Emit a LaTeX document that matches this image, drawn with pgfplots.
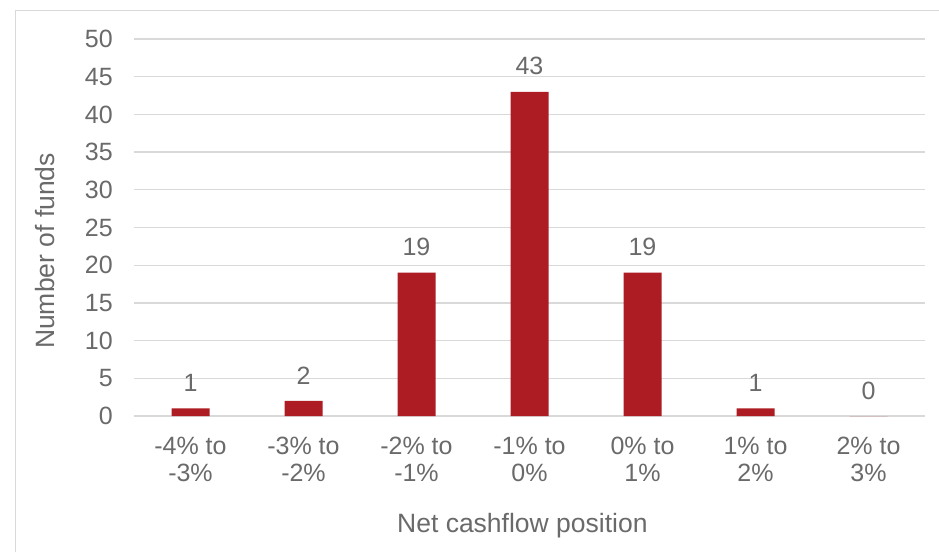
\documentclass[border=0pt]{standalone}
\usepackage{fontspec}
\setmainfont{Liberation Sans}
\usepackage{pgfplots}
\pgfplotsset{compat=1.18}
\definecolor{barred}{HTML}{AE1C23}
\definecolor{txt}{HTML}{6A6A6A}
\definecolor{gridc}{HTML}{D9D9D9}
\begin{document}
\begin{tikzpicture}
\path[use as bounding box] (0,0) rectangle (939pt,552pt);
\fill[white] (0,0) rectangle (939pt,552pt);
\draw[gridc, line width=1.3pt] (15.5pt,0) -- (15.5pt,541.5pt) -- (939pt,541.5pt);
\begin{axis}[
  at={(134pt,136pt)}, anchor=south west,
  scale only axis, width=791pt, height=377pt,
  xmin=-0.5, xmax=6.5, ymin=0, ymax=50,
  ytick={0,5,...,50},
  xtick={0,...,6},
  xticklabels={{-4\% to\\-3\%},{-3\% to\\-2\%},{-2\% to\\-1\%},{-1\% to\\0\%},{0\% to\\1\%},{1\% to\\2\%},{2\% to\\3\%}},
  axis line style={draw=none},
  major tick length=0pt,
  ymajorgrids,
  grid style={gridc, line width=1.3pt},
  ybar, bar width=38pt,
  /pgf/number format/assume math mode=true,
  ticklabel style={font=\fontsize{25}{27}\selectfont, text=txt},
  yticklabel style={anchor=east, inner sep=0pt, xshift=-21pt},
  xticklabel style={align=center, anchor=north, inner sep=0pt, yshift=-21pt},
  nodes near coords,
  nodes near coords style={font=\fontsize{25}{27}\selectfont, text=txt, anchor=south, inner sep=0pt, yshift=16.5pt},
  xlabel={Net cashflow position},
  xlabel style={at={(axis description cs:0.491,-0.3077)}, anchor=base, inner sep=0pt, font=\fontsize{26.5}{29}\selectfont, text=txt},
  ylabel={Number of funds},
  ylabel style={at={(axis description cs:-0.0999,0.4377)}, anchor=south, rotate=0, inner sep=0pt, font=\fontsize{26.5}{29}\selectfont, text=txt},
]
\addplot[fill=barred, draw=none] coordinates {(0,1) (1,2) (2,19) (3,43) (4,19) (5,1) (6,0)};
\end{axis}
\end{tikzpicture}
\end{document}
